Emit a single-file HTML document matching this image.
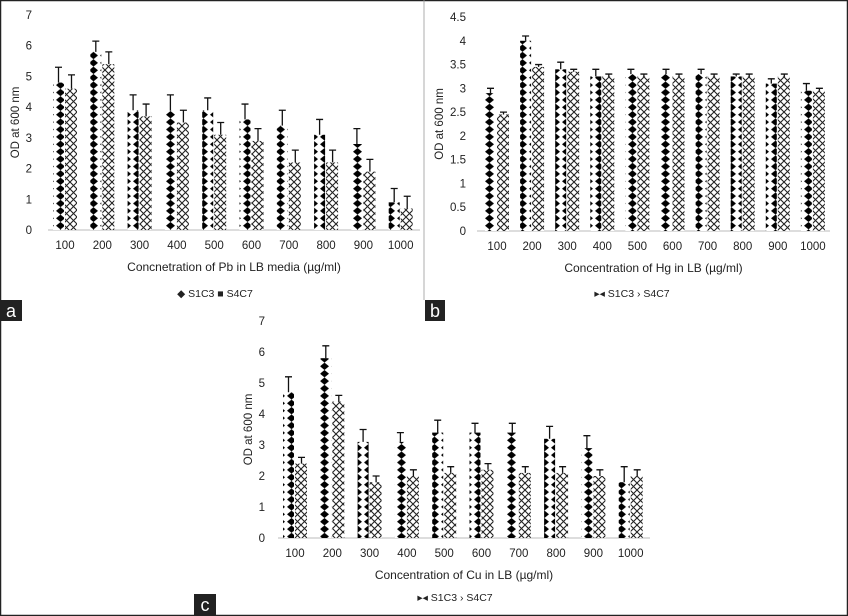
<!DOCTYPE html>
<html><head><meta charset="utf-8"><style>
html,body{margin:0;padding:0;background:#fff}
svg{display:block}
text{font-family:"Liberation Sans",sans-serif;fill:#222}
</style></head><body>
<svg id="s" width="848" height="616" xmlns="http://www.w3.org/2000/svg">
<defs>
<pattern id="dia" width="11" height="7.4" patternUnits="userSpaceOnUse">
<rect width="11" height="7.4" fill="#fff"/>
<polygon points="5.5,0 10,3.7 5.5,7.4 1,3.7" fill="#000"/>
</pattern>
<pattern id="hx" width="7" height="7" patternUnits="userSpaceOnUse">
<rect width="7" height="7" fill="#fff"/>
<path d="M0,0 L7,7 M7,0 L0,7" stroke="#222" stroke-width="1.1"/>
</pattern>
</defs>
<g id="g"></g>
<rect x="0.5" y="0.5" width="847" height="615" fill="none" stroke="#222" stroke-width="1.5"/>
<line x1="424" y1="0" x2="424" y2="300" stroke="#999" stroke-width="0.8"/>
<rect x="0" y="300" width="22" height="21" fill="#222"/><text x="11" y="317" text-anchor="middle" font-size="18" style="fill:#fff">a</text>
<rect x="425" y="300" width="20" height="21" fill="#222"/><text x="435" y="317" text-anchor="middle" font-size="18" style="fill:#fff">b</text>
<rect x="194" y="594" width="22" height="22" fill="#222"/><text x="205" y="611" text-anchor="middle" font-size="18" style="fill:#fff">c</text>
</svg>
<script>
const g=document.getElementById('g');let h='';
function panel(o){
 const {x0,x1,y0,ytop,max,step,dec,c0,sp,a,ae,b,be,xl,yx,legY,legX,legTxt}=o;
 const sc=(y0-ytop)/max;
 for(let v=0;v<=max+1e-9;v+=step){const y=y0-v*sc;
  h+=`<text x="${o.tx}" y="${y+4}" font-size="11.5" text-anchor="end">${dec?(+v.toFixed(1)).toString():v}</text>`;}
 h+=`<line x1="${x0}" y1="${y0}" x2="${x1}" y2="${y0}" stroke="#bbb" stroke-width="1"/>`;
 const labs=[100,200,300,400,500,600,700,800,900,1000];
 labs.forEach((l,i)=>{const cx=c0+i*sp;
  const w=11;
  const ya=y0-a[i]*sc, yb=y0-b[i]*sc;
  h+=`<rect x="${cx-w-1}" y="${ya}" width="${w}" height="${y0-ya}" fill="url(#dia)"/>`;
  h+=`<rect x="${cx}" y="${yb}" width="${w+1}" height="${y0-yb}" fill="url(#hx)"/>`;
  const ea=y0-ae[i]*sc, eb=y0-be[i]*sc;
  const xa=cx-w/2-1, xb=cx+w/2+1;
  h+=`<path d="M${xa},${ya} V${ea} M${xa-3.5},${ea} H${xa+3.5} M${xb},${yb} V${eb} M${xb-3.5},${eb} H${xb+3.5}" stroke="#111" stroke-width="1.3" fill="none"/>`;
  h+=`<text x="${cx}" y="${y0+19}" font-size="11.5" text-anchor="middle">${l}</text>`;
 });
 h+=`<text x="${(x0+x1)/2}" y="${y0+41}" font-size="12" text-anchor="middle">${xl}</text>`;
 const ym=(y0+ytop)/2;
 h+=`<text transform="translate(${yx},${ym}) rotate(-90)" font-size="11.5" text-anchor="middle">OD at 600 nm</text>`;
 h+=`<text x="${legX}" y="${legY}" font-size="10.5" text-anchor="middle">${legTxt}</text>`;
}
panel({x0:48,x1:420,y0:230,ytop:15,max:7,step:1,c0:65,sp:37.3,tx:32,yx:19,
 a:[4.8,5.8,3.9,3.9,3.9,3.6,3.4,3.1,2.8,0.9],ae:[5.3,6.15,4.4,4.4,4.3,4.1,3.9,3.6,3.3,1.35],
 b:[4.6,5.4,3.7,3.5,3.1,2.9,2.2,2.2,1.9,0.7],be:[5.05,5.8,4.1,3.9,3.5,3.3,2.6,2.6,2.3,1.1],
 xl:"Concnetration of Pb in LB media (µg/ml)",legX:215,legY:297,legTxt:"◆ S1C3  ■ S4C7"});
panel({x0:477,x1:830,y0:231,ytop:17,max:4.5,step:0.5,dec:1,c0:497,sp:35.1,tx:466,yx:443,
 a:[2.9,4.0,3.4,3.25,3.3,3.3,3.3,3.25,3.1,2.95],ae:[3.0,4.1,3.55,3.4,3.4,3.4,3.4,3.3,3.2,3.1],
 b:[2.45,3.45,3.35,3.25,3.25,3.25,3.25,3.25,3.25,2.95],be:[2.5,3.5,3.4,3.3,3.3,3.3,3.3,3.3,3.3,3.0],
 xl:"Concentration of  Hg in LB (µg/ml)",legX:632,legY:297,legTxt:"▸◂ S1C3  › S4C7"});
panel({x0:278,x1:650,y0:538,ytop:321,max:7,step:1,c0:295,sp:37.3,tx:265,yx:252,
 a:[4.7,5.8,3.1,3.1,3.4,3.4,3.4,3.2,2.9,1.8],ae:[5.2,6.2,3.5,3.4,3.8,3.7,3.7,3.6,3.3,2.3],
 b:[2.4,4.4,1.8,2.0,2.1,2.2,2.1,2.1,2.0,2.0],be:[2.6,4.6,2.0,2.2,2.3,2.4,2.3,2.3,2.2,2.2],
 xl:"Concentration of Cu in LB (µg/ml)",legX:455,legY:601,legTxt:"▸◂ S1C3  › S4C7"});
g.innerHTML=h;
</script>
</body></html>
